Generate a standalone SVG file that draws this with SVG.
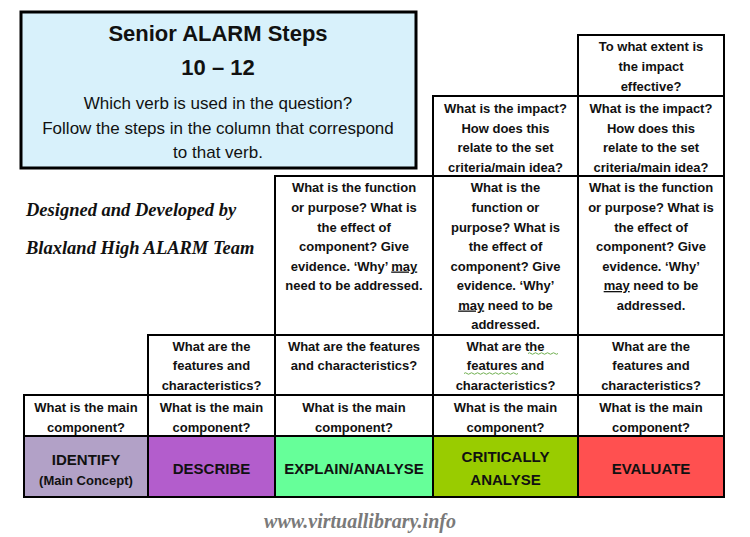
<svg xmlns="http://www.w3.org/2000/svg" width="750" height="537" viewBox="0 0 750 537">
<style>
.cell{fill:#ffffff;stroke:#000;stroke-width:2}
.q{font-family:"Liberation Sans",Arial,sans-serif;font-weight:bold;font-size:13px;fill:#111;text-anchor:middle}
.v{font-family:"Liberation Sans",Arial,sans-serif;font-weight:bold;font-size:15px;fill:#111;text-anchor:middle}
.u{text-decoration:underline}
.hand{font-family:"Liberation Serif","Times New Roman",serif;font-style:italic;font-weight:bold;font-size:18.5px;fill:#111}
.sq{fill:none;stroke:#70b050;stroke-width:1}
</style>
<rect width="750" height="537" fill="#ffffff"/>

<g id="title">
<rect x="21" y="12" width="395" height="156" fill="#d8f1fb" stroke="#000" stroke-width="3"/>
<text x="218" y="41" text-anchor="middle" font-family="Liberation Sans,Arial,sans-serif" font-weight="bold" font-size="22" fill="#111">Senior ALARM Steps</text>
<text x="218" y="75" text-anchor="middle" font-family="Liberation Sans,Arial,sans-serif" font-weight="bold" font-size="22" fill="#111">10 – 12</text>
<text text-anchor="middle" font-family="Liberation Sans,Arial,sans-serif" font-size="17" fill="#111"><tspan x="218" y="108.5">Which verb is used in the question?</tspan><tspan x="218" y="133.5">Follow the steps in the column that correspond</tspan><tspan x="218" y="157.5">to that verb.</tspan></text>
</g>

<g id="credits">
<text class="hand" x="26" y="216">Designed and Developed by</text>
<text class="hand" x="26" y="254">Blaxland High ALARM Team</text>
</g>

<g id="col-evaluate-extent">
<rect class="cell" x="578" y="35" width="146" height="61"/>
<text class="q"><tspan x="651" y="51">To what extent is</tspan><tspan x="651" y="71">the impact</tspan><tspan x="651" y="90.5">effective?</tspan></text>
</g>

<g id="col-critical-impact">
<rect class="cell" x="433" y="96" width="145" height="80"/>
<text class="q"><tspan x="505.5" y="113">What is the impact?</tspan><tspan x="505.5" y="132.5">How does this</tspan><tspan x="505.5" y="152">relate to the set</tspan><tspan x="505.5" y="171.5">criteria/main idea?</tspan></text>
</g>
<g id="col-evaluate-impact">
<rect class="cell" x="578" y="96" width="146" height="80"/>
<text class="q"><tspan x="651" y="113">What is the impact?</tspan><tspan x="651" y="132.5">How does this</tspan><tspan x="651" y="152">relate to the set</tspan><tspan x="651" y="171.5">criteria/main idea?</tspan></text>
</g>

<g id="col-explain-function">
<rect class="cell" x="275" y="176" width="158" height="159"/>
<text class="q"><tspan x="354" y="192">What is the function</tspan><tspan x="354" y="212">or purpose? What is</tspan><tspan x="354" y="231.5">the effect of</tspan><tspan x="354" y="251">component? Give</tspan><tspan x="354" y="270.5">evidence. ‘Why’ <tspan class="u">may</tspan></tspan><tspan x="354" y="290">need to be addressed.</tspan></text>
</g>
<g id="col-critical-function">
<rect class="cell" x="433" y="176" width="145" height="159"/>
<text class="q"><tspan x="505.5" y="192">What is the</tspan><tspan x="505.5" y="212">function or</tspan><tspan x="505.5" y="231.5">purpose? What is</tspan><tspan x="505.5" y="251">the effect of</tspan><tspan x="505.5" y="270.5">component? Give</tspan><tspan x="505.5" y="290">evidence. ‘Why’</tspan><tspan x="505.5" y="309.5"><tspan class="u">may</tspan> need to be</tspan><tspan x="505.5" y="329">addressed.</tspan></text>
</g>
<g id="col-evaluate-function">
<rect class="cell" x="578" y="176" width="146" height="159"/>
<text class="q"><tspan x="651" y="192">What is the function</tspan><tspan x="651" y="212">or purpose? What is</tspan><tspan x="651" y="231.5">the effect of</tspan><tspan x="651" y="251">component? Give</tspan><tspan x="651" y="270.5">evidence. ‘Why’</tspan><tspan x="651" y="290"><tspan class="u">may</tspan> need to be</tspan><tspan x="651" y="309.5">addressed.</tspan></text>
</g>

<g id="col-describe-features">
<rect class="cell" x="148" y="335" width="127" height="60"/>
<text class="q"><tspan x="211.5" y="350.5">What are the</tspan><tspan x="211.5" y="370">features and</tspan><tspan x="211.5" y="390">characteristics?</tspan></text>
</g>
<g id="col-explain-features">
<rect class="cell" x="275" y="335" width="158" height="60"/>
<text class="q"><tspan x="354" y="350.5">What are the features</tspan><tspan x="354" y="370">and characteristics?</tspan></text>
</g>
<g id="col-critical-features">
<rect class="cell" x="433" y="335" width="145" height="60"/>
<text class="q"><tspan x="505.5" y="350.5">What are the</tspan><tspan x="505.5" y="370">features and</tspan><tspan x="505.5" y="390">characteristics?</tspan></text>
<path class="sq" d="M528 353.5 q1.5 -1.5 3 0 t3 0 t3 0 t3 0 t3 0 t3 0 t3 0 t3 0 t3 0 t3 0"/>
<path class="sq" d="M464 373.5 q1.5 -1.5 3 0 t3 0 t3 0 t3 0 t3 0 t3 0 t3 0 t3 0 t3 0 t3 0 t3 0 t3 0 t3 0 t3 0 t3 0 t3 0 t3 0 t3 0"/>
</g>
<g id="col-evaluate-features">
<rect class="cell" x="578" y="335" width="146" height="60"/>
<text class="q"><tspan x="651" y="350.5">What are the</tspan><tspan x="651" y="370">features and</tspan><tspan x="651" y="390">characteristics?</tspan></text>
</g>

<g id="col-identify-main">
<rect class="cell" x="24" y="395" width="124" height="41"/>
<text class="q"><tspan x="86" y="412">What is the main</tspan><tspan x="86" y="431.5">component?</tspan></text>
</g>
<g id="col-describe-main">
<rect class="cell" x="148" y="395" width="127" height="41"/>
<text class="q"><tspan x="211.5" y="412">What is the main</tspan><tspan x="211.5" y="431.5">component?</tspan></text>
</g>
<g id="col-explain-main">
<rect class="cell" x="275" y="395" width="158" height="41"/>
<text class="q"><tspan x="354" y="412">What is the main</tspan><tspan x="354" y="431.5">component?</tspan></text>
</g>
<g id="col-critical-main">
<rect class="cell" x="433" y="395" width="145" height="41"/>
<text class="q"><tspan x="505.5" y="412">What is the main</tspan><tspan x="505.5" y="431.5">component?</tspan></text>
</g>
<g id="col-evaluate-main">
<rect class="cell" x="578" y="395" width="146" height="41"/>
<text class="q"><tspan x="651" y="412">What is the main</tspan><tspan x="651" y="431.5">component?</tspan></text>
</g>

<g id="verb-identify">
<rect x="24" y="436" width="124" height="61" fill="#b2a1c7" stroke="#000" stroke-width="2"/>
<text class="v" x="86" y="465">IDENTIFY</text>
<text class="q" x="86" y="485" font-size="13.5">(Main Concept)</text>
</g>
<g id="verb-describe">
<rect x="148" y="436" width="127" height="61" fill="#b35dcc" stroke="#000" stroke-width="2"/>
<text class="v" x="211.5" y="473.5">DESCRIBE</text>
</g>
<g id="verb-explain">
<rect x="275" y="436" width="158" height="61" fill="#66ff99" stroke="#000" stroke-width="2"/>
<text class="v" x="354" y="473.5">EXPLAIN/ANALYSE</text>
</g>
<g id="verb-critically">
<rect x="433" y="436" width="145" height="61" fill="#99cc00" stroke="#000" stroke-width="2"/>
<text class="v" x="505.5" y="462">CRITICALLY</text>
<text class="v" x="505.5" y="484.5">ANALYSE</text>
</g>
<g id="verb-evaluate">
<rect x="578" y="436" width="146" height="61" fill="#ff5050" stroke="#000" stroke-width="2"/>
<text class="v" x="651" y="473.5">EVALUATE</text>
</g>

<g id="connectors"></g>

<g id="footer">
<text x="360" y="528" text-anchor="middle" font-family="Liberation Serif,Times New Roman,serif" font-style="italic" font-weight="bold" font-size="20" fill="#7a7a7a">www.virtuallibrary.info</text>
</g>
</svg>
